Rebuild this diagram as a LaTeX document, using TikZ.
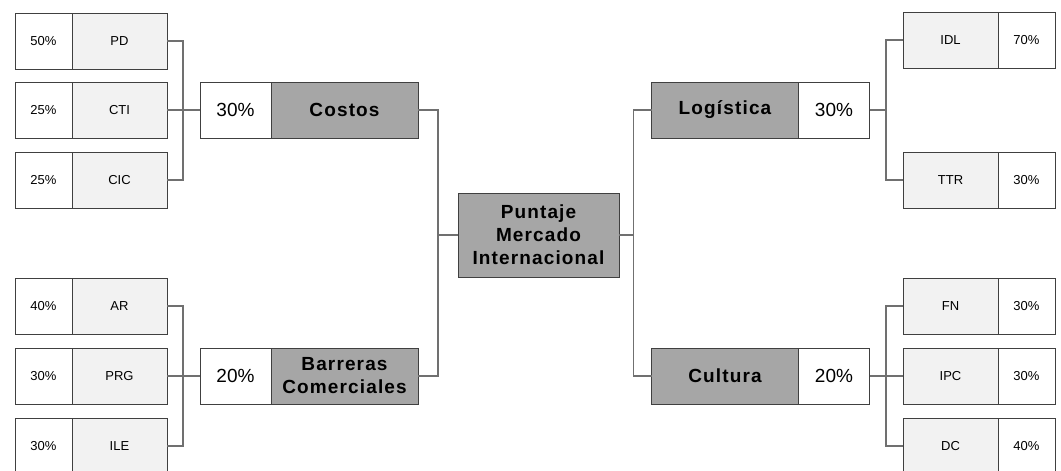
\documentclass[tikz,border=0pt]{standalone}
\usepackage{fontspec}
\setmainfont{Liberation Sans}
\newfontfamily\catfont[LetterSpace=6]{Liberation Sans}
\usetikzlibrary{positioning}

\definecolor{catgray}{HTML}{A6A6A6}
\definecolor{leafgray}{HTML}{F2F2F2}
\definecolor{edgegray}{HTML}{404040}
\definecolor{linegray}{HTML}{707070}

\begin{document}
\begin{tikzpicture}[x=1pt,y=-1pt]
            \tikzstyle{every node}=[draw=edgegray,line width=1pt,inner sep=0pt,outer sep=0pt,minimum height=56pt,align=center]
            \tikzstyle{leafpct}=[fill=white,minimum width=57pt,font=\fontsize{13}{13}\selectfont]
            \tikzstyle{leaflbl}=[fill=leafgray,minimum width=95pt,font=\fontsize{13}{13}\selectfont]
            \tikzstyle{catpct}=[fill=white,minimum width=71pt,font=\fontsize{19}{19}\selectfont]
            \tikzstyle{catlbl}=[fill=catgray,minimum width=147pt,font=\catfont\bfseries\fontsize{19}{23}\selectfont]
            \tikzstyle{link}=[draw=linegray,line width=1.4pt]

            \useasboundingbox (0,0) rectangle (1061,471);

            % centro
            \node[catlbl,minimum width=161pt,minimum height=84pt] (central) at (538.5,235) {Puntaje\\Mercado\\Internacional};

            % costos
            \node[leafpct] (pdpct) at (43.5,41) {50\%};
            \node[leaflbl,right=0pt of pdpct] (pd) {PD};
            \node[leafpct,below=13pt of pdpct] (ctipct) {25\%};
            \node[leaflbl,right=0pt of ctipct] (cti) {CTI};
            \node[leafpct,below=14pt of ctipct] (cicpct) {25\%};
            \node[leaflbl,right=0pt of cicpct] (cic) {CIC};
            \node[catpct] (costospct) at (235.5,110) {30\%};
            \node[catlbl,right=0pt of costospct] (costos) {Costos};

            % barreras
            \node[leafpct] (arpct) at (43.5,306) {40\%};
            \node[leaflbl,right=0pt of arpct] (ar) {AR};
            \node[leafpct,below=14pt of arpct] (prgpct) {30\%};
            \node[leaflbl,right=0pt of prgpct] (prg) {PRG};
            \node[leafpct,below=14pt of prgpct] (ilepct) {30\%};
            \node[leaflbl,right=0pt of ilepct] (ile) {ILE};
            \node[catpct] (barrpct) at (235.5,376) {20\%};
            \node[catlbl,right=0pt of barrpct] (barr) {Barreras\\Comerciales};

            % logistica
            \node[catlbl] (logist) at (725,110) {Logística};
            \node[catpct,right=0pt of logist] (logpct) {30\%};
            \node[leaflbl] (idl) at (950.5,40) {IDL};
            \node[leafpct,right=0pt of idl] (idlpct) {70\%};
            \node[leaflbl] (ttr) at (950.5,180) {TTR};
            \node[leafpct,right=0pt of ttr] (ttrpct) {30\%};

            % cultura
            \node[catlbl] (cultura) at (725,376) {Cultura};
            \node[catpct,right=0pt of cultura] (culpct) {20\%};
            \node[leaflbl] (fn) at (950.5,306) {FN};
            \node[leafpct,right=0pt of fn] (fnpct) {30\%};
            \node[leaflbl,below=14pt of fn] (ipc) {IPC};
            \node[leafpct,right=0pt of ipc] (ipcpct) {30\%};
            \node[leaflbl,below=14pt of ipc] (dc) {DC};
            \node[leafpct,right=0pt of dc] (dcpct) {40\%};

            % conexiones
            \draw[link] (pd.east) -- ++(16,0) |- (cic.east);
            \draw[link] (cti.east) -- (costospct.west);
            \draw[link] (ar.east) -- ++(16,0) |- (ile.east);
            \draw[link] (prg.east) -- (barrpct.west);
            \draw[link] (costos.east) -- ++(20,0) |- (central.west);
            \draw[link] (barr.east) -- ++(20,0) |- (central.west);
            \draw[link] (logist.west) -- ++(-18,0) |- (central.east);
            \draw[link] (cultura.west) -- ++(-18,0) |- (central.east);
            \draw[link] (idl.west) -- ++(-17,0) coordinate (logbr) |- (ttr.west);
            \draw[link] (logpct.east) -- (logpct.east -| logbr);
            \draw[link] (fn.west) -- ++(-17,0) |- (dc.west);
            \draw[link] (culpct.east) -- (ipc.west);
        \end{tikzpicture}
\end{document}
